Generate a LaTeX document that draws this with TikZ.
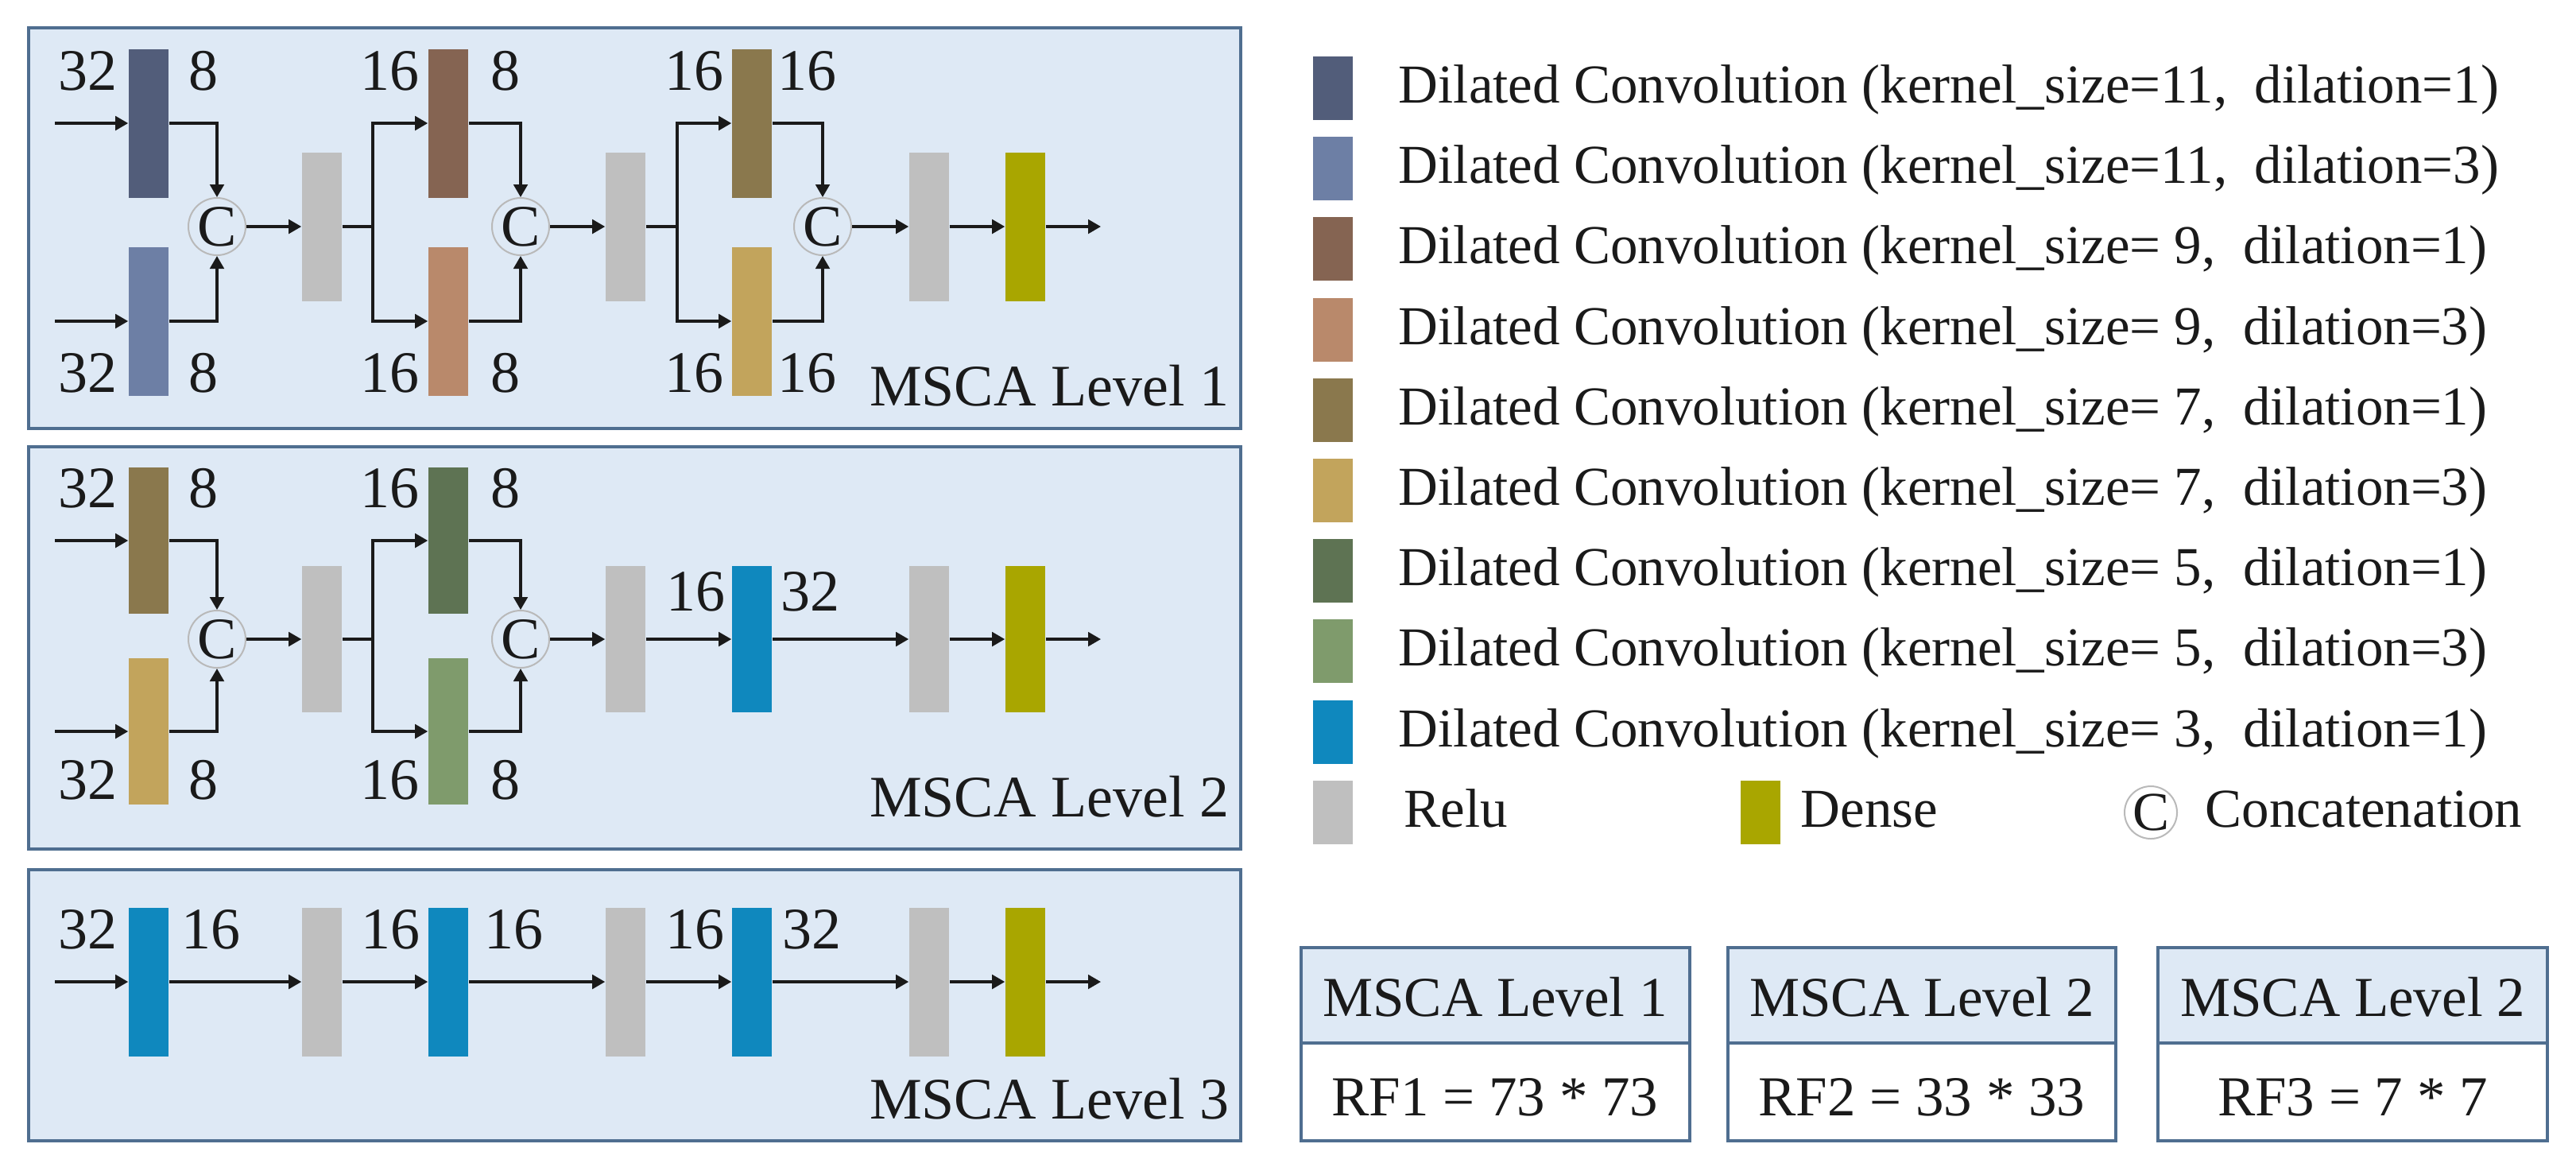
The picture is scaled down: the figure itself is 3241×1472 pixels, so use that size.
\documentclass[tikz,border=0pt]{standalone}
\usepackage{fontspec}
\setmainfont{Liberation Serif}
\usetikzlibrary{arrows.meta}
\definecolor{panelfill}{HTML}{DEE9F5}
\definecolor{panelline}{HTML}{4F6E90}
\definecolor{cAa}{HTML}{525D7A}
\definecolor{cAb}{HTML}{6D7FA5}
\definecolor{cBa}{HTML}{856452}
\definecolor{cBb}{HTML}{B9896B}
\definecolor{cCa}{HTML}{8A784D}
\definecolor{cCb}{HTML}{C2A45C}
\definecolor{cDa}{HTML}{5E7353}
\definecolor{cDb}{HTML}{7F9B6C}
\definecolor{cE}{HTML}{0F88BE}
\definecolor{relu}{HTML}{BFBFBF}
\definecolor{dense}{HTML}{A9A600}
\definecolor{ink}{HTML}{1A1A1A}
\begin{document}
\begin{tikzpicture}[x=0.25pt,y=-0.25pt,
  bar/.style={rectangle,inner sep=0,minimum width=12.5pt,minimum height=46.75pt},
  barb/.style={bar,minimum height=46pt},
  swatch/.style={rectangle,inner sep=0,minimum width=12.5pt,minimum height=20pt},
  num/.style={inner sep=0,text=ink,font=\fontsize{18.5}{20}\selectfont},
  plab/.style={inner sep=0,text=ink,anchor=base east,font=\fontsize{18.5}{20}\selectfont},
  leg/.style={inner sep=0,text=ink,anchor=base west,font=\fontsize{17.25}{20}\selectfont},
  boxtxt/.style={inner sep=0,text=ink,anchor=base,font=\fontsize{17.75}{20}\selectfont},
  cat/.style={circle,draw=gray!55,line width=0.5pt,minimum size=18pt,inner sep=0,text=ink,font=\fontsize{18.5}{20}\selectfont},
  panel/.style={draw=panelline,fill=panelfill,line width=1pt},
  boxline/.style={draw=panelline,line width=1pt},
  ln/.style={draw=ink,line width=0.8pt},
  arr/.style={ln,-{Triangle[length=4pt,width=4.4pt]}}]
\useasboundingbox (0,0) rectangle (3241,1472);

% ---------- panels ----------
\draw[panel] (36,35) rectangle (1561,539);
\draw[panel] (36,562) rectangle (1561,1068);
\draw[panel] (36,1094) rectangle (1561,1435);

% ---------- Level 1 ----------
\node[bar,fill=cAa] (p1t1) at (187,155) {};
\node[bar,fill=cAb] (p1b1) at (187,404) {};
\node[cat] (p1c1) at (273,285) {C};
\node[bar,fill=relu] (p1r1) at (405,285) {};
\node[bar,fill=cBa] (p1t2) at (564,155) {};
\node[bar,fill=cBb] (p1b2) at (564,404) {};
\node[cat] (p1c2) at (655,285) {C};
\node[bar,fill=relu] (p1r2) at (787,285) {};
\node[bar,fill=cCa] (p1t3) at (946,155) {};
\node[bar,fill=cCb] (p1b3) at (946,404) {};
\node[cat] (p1c3) at (1035,285) {C};
\node[bar,fill=relu] (p1r3) at (1169,285) {};
\node[bar,fill=dense] (p1d) at (1290,285) {};
\coordinate (p1it) at (69,155);
\coordinate (p1ib) at (69,404);
\coordinate (p1s1) at (469,285);
\coordinate (p1s2) at (852,285);
\coordinate (p1o) at (1385,285);
\draw[arr] (p1it) -- (p1t1);
\draw[arr] (p1ib) -- (p1b1);
\draw[arr] (p1t1.east) -| (p1c1.north);
\draw[arr] (p1b1.east) -| (p1c1.south);
\draw[arr] (p1c1) -- (p1r1);
\draw[ln] (p1r1) -- (p1s1);
\draw[arr] (p1s1) |- (p1t2.west);
\draw[arr] (p1s1) |- (p1b2.west);
\draw[arr] (p1t2.east) -| (p1c2.north);
\draw[arr] (p1b2.east) -| (p1c2.south);
\draw[arr] (p1c2) -- (p1r2);
\draw[ln] (p1r2) -- (p1s2);
\draw[arr] (p1s2) |- (p1t3.west);
\draw[arr] (p1s2) |- (p1b3.west);
\draw[arr] (p1t3.east) -| (p1c3.north);
\draw[arr] (p1b3.east) -| (p1c3.south);
\draw[arr] (p1c3) -- (p1r3);
\draw[arr] (p1r3) -- (p1d);
\draw[arr] (p1d) -- (p1o);
\node[num,anchor=base east] (p1n1) at (148,113) {32};
\node[num,anchor=base west] (p1n2) at (237,113) {8};
\node[num,anchor=base east] (p1n3) at (148,493) {32};
\node[num,anchor=base west] (p1n4) at (237,493) {8};
\node[num,anchor=base east] (p1n5) at (528,113) {16};
\node[num,anchor=base west] (p1n6) at (617,113) {8};
\node[num,anchor=base east] (p1n7) at (528,493) {16};
\node[num,anchor=base west] (p1n8) at (617,493) {8};
\node[num,anchor=base east] (p1n9) at (911,113) {16};
\node[num,anchor=base west] (p1n10) at (978,113) {16};
\node[num,anchor=base east] (p1n11) at (911,493) {16};
\node[num,anchor=base west] (p1n12) at (978,493) {16};
\node[plab] (p1lab) at (1547,510) {MSCA Level 1};

% ---------- Level 2 ----------
\node[barb,fill=cCa] (p2t1) at (187,680) {};
\node[barb,fill=cCb] (p2b1) at (187,920) {};
\node[cat] (p2c1) at (273,804) {C};
\node[barb,fill=relu] (p2r1) at (405,804) {};
\node[barb,fill=cDa] (p2t2) at (564,680) {};
\node[barb,fill=cDb] (p2b2) at (564,920) {};
\node[cat] (p2c2) at (655,804) {C};
\node[barb,fill=relu] (p2r2) at (787,804) {};
\node[barb,fill=cE] (p2k) at (946,804) {};
\node[barb,fill=relu] (p2r3) at (1169,804) {};
\node[barb,fill=dense] (p2d) at (1290,804) {};
\coordinate (p2it) at (69,680);
\coordinate (p2ib) at (69,920);
\coordinate (p2s1) at (469,804);
\coordinate (p2o) at (1385,804);
\draw[arr] (p2it) -- (p2t1);
\draw[arr] (p2ib) -- (p2b1);
\draw[arr] (p2t1.east) -| (p2c1.north);
\draw[arr] (p2b1.east) -| (p2c1.south);
\draw[arr] (p2c1) -- (p2r1);
\draw[ln] (p2r1) -- (p2s1);
\draw[arr] (p2s1) |- (p2t2.west);
\draw[arr] (p2s1) |- (p2b2.west);
\draw[arr] (p2t2.east) -| (p2c2.north);
\draw[arr] (p2b2.east) -| (p2c2.south);
\draw[arr] (p2c2) -- (p2r2);
\draw[arr] (p2r2) -- (p2k);
\draw[arr] (p2k) -- (p2r3);
\draw[arr] (p2r3) -- (p2d);
\draw[arr] (p2d) -- (p2o);
\node[num,anchor=base east] (p2n1) at (148,638) {32};
\node[num,anchor=base west] (p2n2) at (237,638) {8};
\node[num,anchor=base east] (p2n3) at (148,1005) {32};
\node[num,anchor=base west] (p2n4) at (237,1005) {8};
\node[num,anchor=base east] (p2n5) at (528,638) {16};
\node[num,anchor=base west] (p2n6) at (617,638) {8};
\node[num,anchor=base east] (p2n7) at (528,1005) {16};
\node[num,anchor=base west] (p2n8) at (617,1005) {8};
\node[num,anchor=base east] (p2n9) at (913,768) {16};
\node[num,anchor=base west] (p2n10) at (982,768) {32};
\node[plab] (p2lab) at (1547,1027) {MSCA Level 2};

% ---------- Level 3 ----------
\node[bar,fill=cE] (p3k1) at (187,1235) {};
\node[bar,fill=relu] (p3r1) at (405,1235) {};
\node[bar,fill=cE] (p3k2) at (564,1235) {};
\node[bar,fill=relu] (p3r2) at (787,1235) {};
\node[bar,fill=cE] (p3k3) at (946,1235) {};
\node[bar,fill=relu] (p3r3) at (1169,1235) {};
\node[bar,fill=dense] (p3d) at (1290,1235) {};
\coordinate (p3i) at (69,1235);
\coordinate (p3o) at (1385,1235);
\draw[arr] (p3i) -- (p3k1);
\draw[arr] (p3k1) -- (p3r1);
\draw[arr] (p3r1) -- (p3k2);
\draw[arr] (p3k2) -- (p3r2);
\draw[arr] (p3r2) -- (p3k3);
\draw[arr] (p3k3) -- (p3r3);
\draw[arr] (p3r3) -- (p3d);
\draw[arr] (p3d) -- (p3o);
\node[num,anchor=base east] (p3n1) at (148,1193) {32};
\node[num,anchor=base west] (p3n2) at (228,1193) {16};
\node[num,anchor=base east] (p3n3) at (529,1193) {16};
\node[num,anchor=base west] (p3n4) at (609,1193) {16};
\node[num,anchor=base east] (p3n5) at (912,1193) {16};
\node[num,anchor=base west] (p3n6) at (984,1193) {32};
\node[plab] (p3lab) at (1547,1407) {MSCA Level 3};

% ---------- legend ----------
\node[swatch,fill=cAa] (lg1) at (1677,111) {};
\node[swatch,fill=cAb] (lg2) at (1677,212) {};
\node[swatch,fill=cBa] (lg3) at (1677,313) {};
\node[swatch,fill=cBb] (lg4) at (1677,415) {};
\node[swatch,fill=cCa] (lg5) at (1677,516) {};
\node[swatch,fill=cCb] (lg6) at (1677,617) {};
\node[swatch,fill=cDa] (lg7) at (1677,718) {};
\node[swatch,fill=cDb] (lg8) at (1677,819) {};
\node[swatch,fill=cE] (lg9) at (1677,921) {};
\node[leg] (lt1) at (1759,129) {Dilated Convolution (kernel\_size=11,\ \ dilation=1)};
\node[leg] (lt2) at (1759,230) {Dilated Convolution (kernel\_size=11,\ \ dilation=3)};
\node[leg] (lt3) at (1759,331) {Dilated Convolution (kernel\_size=\ 9,\ \ dilation=1)};
\node[leg] (lt4) at (1759,433) {Dilated Convolution (kernel\_size=\ 9,\ \ dilation=3)};
\node[leg] (lt5) at (1759,534) {Dilated Convolution (kernel\_size=\ 7,\ \ dilation=1)};
\node[leg] (lt6) at (1759,635) {Dilated Convolution (kernel\_size=\ 7,\ \ dilation=3)};
\node[leg] (lt7) at (1759,736) {Dilated Convolution (kernel\_size=\ 5,\ \ dilation=1)};
\node[leg] (lt8) at (1759,837) {Dilated Convolution (kernel\_size=\ 5,\ \ dilation=3)};
\node[leg] (lt9) at (1759,939) {Dilated Convolution (kernel\_size=\ 3,\ \ dilation=1)};
\node[swatch,fill=relu] (lgr) at (1677,1022) {};
\node[leg] (ltr) at (1766,1040) {Relu};
\node[swatch,fill=dense] (lgd) at (2215,1022) {};
\node[leg] (ltd) at (2265,1040) {Dense};
\node[cat,minimum size=16.5pt,font=\fontsize{17.25}{20}\selectfont] (lgc) at (2706,1022) {C};
\node[leg] (ltc) at (2774,1040) {Concatenation};

% ---------- receptive field boxes ----------
\fill[panelfill] (1637,1192) rectangle (2126,1312);
\draw[boxline] (1637,1192) rectangle (2126,1435);
\draw[boxline] (1637,1312) -- (2126,1312);
\node[boxtxt] (bx1a) at (1881,1278) {MSCA Level 1};
\node[boxtxt] (bx1b) at (1881,1403) {RF1 = 73 * 73};

\fill[panelfill] (2174,1192) rectangle (2662,1312);
\draw[boxline] (2174,1192) rectangle (2662,1435);
\draw[boxline] (2174,1312) -- (2662,1312);
\node[boxtxt] (bx2a) at (2418,1278) {MSCA Level 2};
\node[boxtxt] (bx2b) at (2418,1403) {RF2 = 33 * 33};

\fill[panelfill] (2715,1192) rectangle (3205,1312);
\draw[boxline] (2715,1192) rectangle (3205,1435);
\draw[boxline] (2715,1312) -- (3205,1312);
\node[boxtxt] (bx3a) at (2960,1278) {MSCA Level 2};
\node[boxtxt] (bx3b) at (2960,1403) {RF3 = 7 * 7};
\end{tikzpicture}
\end{document}
